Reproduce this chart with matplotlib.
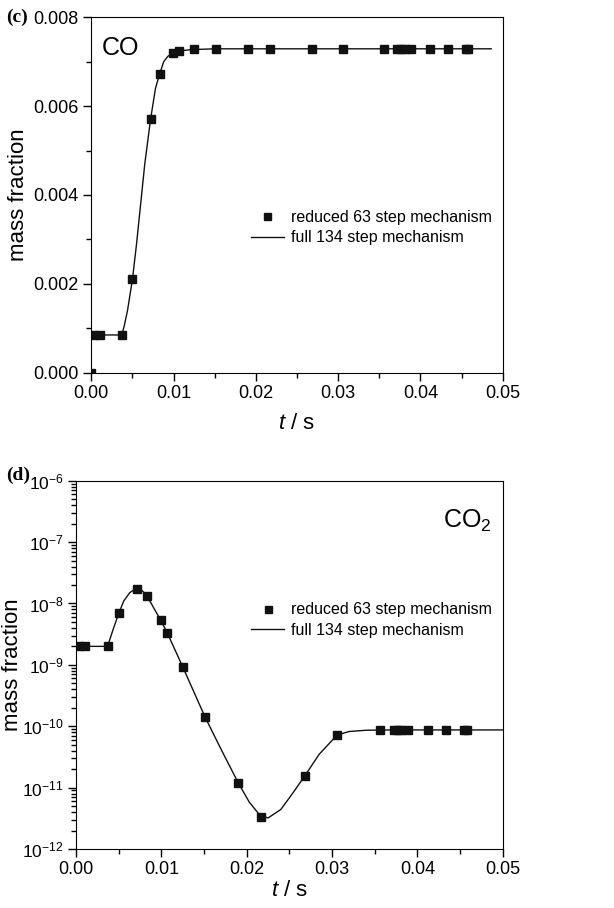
import matplotlib
matplotlib.use("Agg")
import matplotlib.pyplot as plt
from matplotlib.ticker import MultipleLocator, FormatStrFormatter, LogLocator, NullFormatter

plt.rcParams['font.family'] = ['Liberation Sans', 'DejaVu Sans']
plt.rcParams['mathtext.fontset'] = 'custom'
plt.rcParams['mathtext.rm'] = 'Liberation Sans'
plt.rcParams['mathtext.it'] = 'Liberation Sans:italic'
plt.rcParams['mathtext.default'] = 'regular'
plt.rcParams['axes.unicode_minus'] = False

# reduced 63 step mechanism (markers)
t_pts = [0.0003, 0.0011, 0.0037, 0.0050, 0.0072, 0.0083, 0.0099, 0.0107, 0.0125,
         0.0151, 0.0190, 0.0217, 0.0268, 0.0306, 0.0356, 0.0372, 0.0377, 0.0381,
         0.0389, 0.0412, 0.0434, 0.0455, 0.0458]
co_pts = [0.00085, 0.00085, 0.00085, 0.0021, 0.0057, 0.00672, 0.00719, 0.00724, 0.00728,
          0.00729, 0.00729, 0.00729, 0.00729, 0.00729, 0.00729, 0.00729, 0.00729, 0.00729,
          0.00729, 0.00729, 0.00729, 0.00729, 0.00729]
co2_pts = [2.0e-9, 2.0e-9, 2.0e-9, 6.9e-9, 1.72e-8, 1.34e-8, 5.4e-9, 3.3e-9, 9.3e-10,
           1.43e-10, 1.17e-11, 3.3e-12, 1.55e-11, 7.2e-11, 8.7e-11, 8.7e-11, 8.7e-11, 8.7e-11,
           8.7e-11, 8.7e-11, 8.7e-11, 8.7e-11, 8.7e-11]

# full 134 step mechanism (lines)
t_co = [0.0, 0.0037, 0.0040, 0.0044, 0.0050, 0.0055, 0.0060, 0.0065, 0.0072, 0.0078,
        0.0083, 0.0088, 0.0093, 0.0099, 0.0107, 0.0120, 0.0150, 0.0486]
co_line = [0.00085, 0.00085, 0.00105, 0.0014, 0.0021, 0.0029, 0.0038, 0.0047, 0.0057, 0.0064,
           0.00672, 0.0070, 0.00712, 0.00719, 0.00724, 0.00727, 0.00729, 0.00729]

t_co2 = [0.0, 0.0037, 0.0043, 0.0050, 0.0056, 0.0063, 0.0070, 0.0076, 0.0083, 0.0091,
         0.0099, 0.0107, 0.0125, 0.0151, 0.0170, 0.0190, 0.0203, 0.0215, 0.0225, 0.0240,
         0.0255, 0.0268, 0.0285, 0.0306, 0.0320, 0.0340, 0.0370, 0.0500]
co2_line = [2.0e-9, 2.0e-9, 3.6e-9, 6.9e-9, 1.1e-8, 1.5e-8, 1.75e-8, 1.7e-8, 1.34e-8, 8.5e-9,
            5.4e-9, 3.3e-9, 9.3e-10, 1.43e-10, 4.2e-11, 1.2e-11, 5.8e-12, 3.6e-12, 3.2e-12, 4.4e-12,
            8.5e-12, 1.55e-11, 3.5e-11, 7.2e-11, 8.2e-11, 8.6e-11, 8.7e-11, 8.7e-11]

fig = plt.figure(figsize=(6.14, 9.08), dpi=100)
ax1 = fig.add_axes([0.1487, 0.5895, 0.670, 0.3915])
ax2 = fig.add_axes([0.1238, 0.065, 0.695, 0.4056])

mk = dict(ls='none', marker='s', ms=6.3, color='#111111', label='reduced 63 step mechanism')
ln = dict(color='#111111', lw=1.0, label='full 134 step mechanism')

# (c) CO
ax1.plot([0.0] + t_pts, [0.0] + co_pts, **mk)
ax1.plot(t_co, co_line, **ln)
ax1.set_xlim(0, 0.05)
ax1.set_ylim(0, 0.008)
ax1.xaxis.set_major_locator(MultipleLocator(0.01))
ax1.xaxis.set_minor_locator(MultipleLocator(0.005))
ax1.yaxis.set_major_locator(MultipleLocator(0.002))
ax1.yaxis.set_minor_locator(MultipleLocator(0.001))
ax1.xaxis.set_major_formatter(FormatStrFormatter('%.2f'))
ax1.yaxis.set_major_formatter(FormatStrFormatter('%.3f'))
ax1.text(0.025, 0.914, 'CO', transform=ax1.transAxes, fontsize=18, va='center', ha='left')
ax1.legend(loc='upper right', bbox_to_anchor=(1.0, 0.49), frameon=False, fontsize=11.5,
           handlelength=2.1, handletextpad=0.4, labelspacing=0.35, markerscale=0.8,
           borderaxespad=0.3)

# (d) CO2
ax2.semilogy(t_pts, co2_pts, **mk)
ax2.semilogy(t_co2, co2_line, **ln)
ax2.set_xlim(0, 0.05)
ax2.set_ylim(1e-12, 1e-6)
ax2.xaxis.set_major_locator(MultipleLocator(0.01))
ax2.xaxis.set_minor_locator(MultipleLocator(0.005))
ax2.xaxis.set_major_formatter(FormatStrFormatter('%.2f'))
ax2.yaxis.set_major_locator(LogLocator(base=10, numticks=20))
ax2.yaxis.set_minor_locator(LogLocator(base=10, subs=range(2, 10), numticks=20))
ax2.yaxis.set_minor_formatter(NullFormatter())
ax2.text(0.86, 0.89, r'CO$_{2}$', transform=ax2.transAxes, fontsize=18, va='center', ha='left')
ax2.legend(loc='upper right', bbox_to_anchor=(1.0, 0.70), frameon=False, fontsize=11.5,
           handlelength=2.1, handletextpad=0.4, labelspacing=0.35, markerscale=0.8,
           borderaxespad=0.3)

for ax in (ax1, ax2):
    ax.tick_params(which='both', direction='out', top=False, right=False, labelsize=13, width=1)
    ax.tick_params(which='major', length=6, pad=3)
    ax.tick_params(which='minor', length=3.5)
    ax.set_ylabel('mass fraction', fontsize=16)

ax2.tick_params(axis='y', labelsize=12.5)
ax1.set_xlabel(r'$\it{t}$ / s', fontsize=16, labelpad=8)
ax2.set_xlabel(r'$\it{t}$ / s', fontsize=16, labelpad=1)

ax1.yaxis.set_label_coords(-0.152, 0.5)
ax2.yaxis.set_label_coords(-0.125, 0.5)

fig.text(0.01, 0.981, '(c)', family='Liberation Serif', weight='bold', fontsize=14, va='center')
fig.text(0.01, 0.476, '(d)', family='Liberation Serif', weight='bold', fontsize=14, va='center')

fig.savefig('out.png', dpi=100)
